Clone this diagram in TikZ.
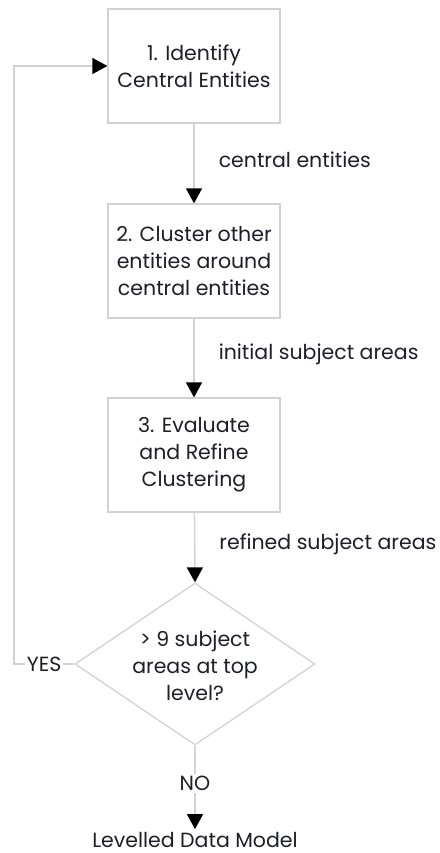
\documentclass[tikz,border=0pt]{standalone}
\usepackage{fontspec}
\setmainfont{Poppins}
\usetikzlibrary{arrows.meta,shapes.geometric}
\definecolor{edgegray}{HTML}{D2D2D2}
\definecolor{ink}{HTML}{1E1E28}
\newcommand{\flowfont}{\fontsize{20.5}{27}\selectfont}
\tikzset{
  stepbox/.style={draw=edgegray, line width=1.3pt, fill=white, minimum width=172pt,
    minimum height=114pt, inner sep=0pt, align=center, text=ink, font=\flowfont},
  flow/.style={draw=edgegray, line width=1.5pt,
    -{Triangle[length=15pt, width=16pt, color=black]}},
  flowlabel/.style={anchor=west, text=ink, inner sep=0pt, font=\flowfont},
  answer/.style={fill=white, text=ink, inner sep=2pt, font=\flowfont},
}
\begin{document}
\begin{tikzpicture}[x=1pt, y=-1pt]
  \useasboundingbox (0,0) rectangle (439,853);

  \node[stepbox] (s1) at (194,66) {1. Identify\\Central Entities};
  \node[stepbox] (s2) at (194,261) {2. Cluster other\\entities around\\central entities};
  \node[stepbox] (s3) at (194,455) {3. Evaluate\\and Refine\\Clustering};
  \node[diamond, draw=edgegray, line width=1.3pt, minimum width=240pt, minimum height=162pt,
        inner sep=0pt] (dec) at (195,664) {};
  \node[align=center, text=ink, inner sep=0pt, font=\flowfont]
        (dectext) at (195,666) {> 9 subject\\areas at top\\level?};
  \node[text=ink, inner xsep=0pt, inner ysep=3pt, font=\flowfont]
        (out) at (195,840) {Levelled Data Model};

  \coordinate (loopbot) at (14,664);
  \coordinate (looptop) at (14,66);

  \draw[flow] (s1) -- node[flowlabel, pos=0.45, xshift=24pt] (l1) {central entities} (s2);
  \draw[flow] (s2) -- node[flowlabel, pos=0.45, xshift=24pt] (l2) {initial subject areas} (s3);
  \draw[flow] (s3) -- node[flowlabel, pos=0.45, xshift=24pt] (l3) {refined subject areas} (dec.north);
  \draw[flow] (dec.south) -- node[answer, pos=0.45] (no) {NO} (out.north);
  \draw[flow] (dec.west) -- node[answer, pos=0.5] (yes) {YES} (loopbot) -- (looptop) -- (s1.west);
\end{tikzpicture}
\end{document}
